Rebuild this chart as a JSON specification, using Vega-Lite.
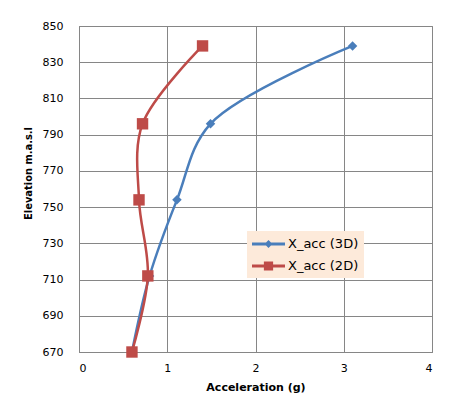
{
  "$schema": "https://vega.github.io/schema/vega-lite/v6.json",
  "width": 353,
  "height": 326,
  "autosize": "none",
  "padding": {"left": 79, "top": 26, "right": 27, "bottom": 45},
  "background": "white",
  "config": {
    "view": {"stroke": "#868686", "strokeWidth": 1},
    "axis": {
      "gridColor": "#868686",
      "gridOpacity": 1,
      "gridWidth": 1,
      "domainColor": "#868686",
      "ticks": false,
      "labelFont": "DejaVu Sans",
      "labelFontSize": 11,
      "labelColor": "#000000",
      "titleColor": "#000000"
    }
  },
  "data": {
    "values": [
      {"series": "X_acc (3D)", "acc": 0.6, "elev": 670},
      {"series": "X_acc (3D)", "acc": 0.8, "elev": 712},
      {"series": "X_acc (3D)", "acc": 1.11, "elev": 754},
      {"series": "X_acc (3D)", "acc": 1.49, "elev": 796},
      {"series": "X_acc (3D)", "acc": 3.1, "elev": 839},
      {"series": "X_acc (2D)", "acc": 0.6, "elev": 670},
      {"series": "X_acc (2D)", "acc": 0.78, "elev": 712},
      {"series": "X_acc (2D)", "acc": 0.68, "elev": 754},
      {"series": "X_acc (2D)", "acc": 0.72, "elev": 796},
      {"series": "X_acc (2D)", "acc": 1.4, "elev": 839}
    ]
  },
  "encoding": {
    "x": {
      "field": "acc",
      "type": "quantitative",
      "scale": {"domain": [0, 4], "nice": false, "zero": false},
      "axis": {
        "values": [0, 1, 2, 3, 4],
        "format": "d",
        "title": "Acceleration (g)",
        "titleFont": "DejaVu Sans",
        "titleFontSize": 11,
        "titleFontWeight": "bold",
        "labelPadding": 10,
        "titlePadding": 8
      }
    },
    "y": {
      "field": "elev",
      "type": "quantitative",
      "scale": {"domain": [670, 850], "nice": false, "zero": false},
      "axis": {
        "values": [670, 690, 710, 730, 750, 770, 790, 810, 830, 850],
        "title": "Elevation m.a.s.l",
        "titleFont": "DejaVu Sans Condensed",
        "titleFontSize": 11,
        "titleFontWeight": "bold",
        "labelPadding": 16,
        "titleX": -51,
        "titleY": 147,
        "titleAlign": "center",
        "titleBaseline": "middle",
        "titleAngle": 270
      }
    },
    "color": {
      "field": "series",
      "type": "nominal",
      "sort": ["X_acc (3D)", "X_acc (2D)"],
      "scale": {"domain": ["X_acc (3D)", "X_acc (2D)"], "range": ["#4A7EBB", "#BE4B48"]},
      "legend": {
        "title": null,
        "orient": "none",
        "legendX": 168,
        "legendY": 205,
        "fillColor": "#FDEADA",
        "padding": 5,
        "rowPadding": 7,
        "labelFont": "DejaVu Sans",
        "labelFontSize": 13,
        "labelColor": "#000000",
        "encode": {
          "symbols": {
            "update": {
              "shape": {"signal": "datum.value === 'X_acc (3D)' ? 'M-1,-0.09H1V0.09H-1Z M0,-0.24L0.24,0L0,0.24L-0.24,0Z' : 'M-1,-0.09H1V0.09H-1Z M-0.28,-0.28H0.28V0.28H-0.28Z'"},
              "size": {"value": 1089},
              "x": {"value": 16.5},
              "y": {"value": 8},
              "fill": {"signal": "datum.value === 'X_acc (3D)' ? '#4A7EBB' : '#BE4B48'"},
              "stroke": {"value": "transparent"},
              "strokeWidth": {"value": 0},
              "opacity": {"value": 1},
              "fillOpacity": {"value": 1}
            }
          },
          "labels": {
            "update": {
              "x": {"value": 36},
              "y": {"value": 8},
              "baseline": {"value": "middle"}
            }
          }
        }
      }
    }
  },
  "layer": [
    {
      "mark": {"type": "line", "interpolate": "catmull-rom", "strokeWidth": 2.5},
      "encoding": {
        "order": {"field": "elev", "type": "quantitative"}
      }
    },
    {
      "transform": [{"filter": "datum.series === 'X_acc (3D)'"}],
      "mark": {"type": "point", "filled": true, "opacity": 1, "shape": "diamond", "size": 90}
    },
    {
      "transform": [{"filter": "datum.series === 'X_acc (2D)'"}],
      "mark": {"type": "point", "filled": true, "opacity": 1, "shape": "square", "size": 130}
    }
  ]
}
